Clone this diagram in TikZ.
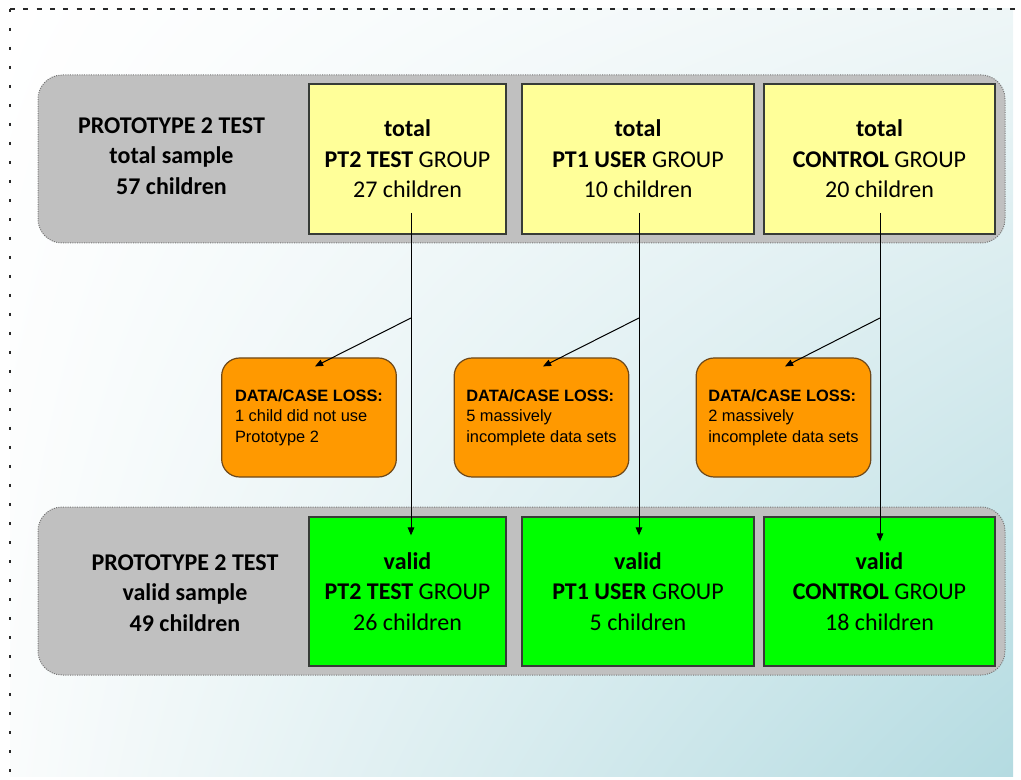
\documentclass[tikz,border=0pt]{standalone}
\usepackage{fontspec}
\setmainfont{Carlito}
\newfontfamily\lossfont{Liberation Sans}
\usetikzlibrary{arrows.meta,calc,shadings}

\definecolor{panelgray}{RGB}{192,192,192}
\definecolor{panelline}{RGB}{118,118,118}
\definecolor{yellowfill}{RGB}{255,255,153}
\definecolor{greenfill}{RGB}{0,255,0}
\definecolor{boxline}{RGB}{55,60,55}
\definecolor{lossfill}{RGB}{255,153,0}
\definecolor{lossline}{RGB}{110,72,25}
\definecolor{bgA}{RGB}{255,255,255}
\definecolor{bgB}{RGB}{238,246,247}
\definecolor{bgC}{RGB}{250,252,252}
\definecolor{bgD}{RGB}{180,219,225}
\definecolor{frameline}{RGB}{40,40,40}

\begin{document}
\begin{tikzpicture}[x=0.75pt,y=-0.75pt,
  panel/.style={draw=panelline, densely dotted, line width=0.75pt, fill=panelgray,
    rounded corners=18pt, inner sep=0pt, minimum width=725.25pt, minimum height=126pt},
  paneltext/.style={align=center, inner sep=0pt,
    font={\fontsize{18pt}{22.8pt}\selectfont\bfseries}},
  group/.style={draw=boxline, line width=1pt, inner sep=0pt, align=center,
    font={\fontsize{18pt}{22.8pt}\selectfont}},
  ybox/.style={group, fill=yellowfill, minimum height=112.5pt},
  gbox/.style={group, fill=greenfill, minimum height=111.75pt},
  loss/.style={draw=lossline, fill=lossfill, line width=0.9pt, rounded corners=13.5pt,
    align=left, inner sep=0pt, minimum width=131pt, minimum height=89.25pt,
    font={\lossfont\fontsize{12.3pt}{15.2pt}\selectfont}},
  link/.style={draw=black, line width=0.75pt, -{Triangle[length=6pt,width=5pt]}},
  frame/.style={draw=frameline, line width=1.4pt}
]
\useasboundingbox (0,0) rectangle (1021,780);

% soft background wash
\shade[upper left=bgA, upper right=bgB, lower left=bgC, lower right=bgD]
  (10,9) rectangle (1013,776);

% dashed page frame
\draw[frame, dash pattern=on 3.75pt off 6.25pt] (10,9) -- (1021,9);
\draw[frame, dash pattern=on 2.6pt off 11.65pt] (10,9) -- (10,780);

% sample panels
\node[panel] (toppanel) at (521.5,159) {};
\node[panel] (botpanel) at (521.5,591) {};

\node[paneltext] (toplabel) at (171.5,156) {PROTOTYPE 2 TEST\\total sample\\57 children};
\node[paneltext] (botlabel) at (185,593) {PROTOTYPE 2 TEST\\valid sample\\49 children};

% total groups
\node[ybox, minimum width=147.75pt] (y1) at (407.5,159)
  {\textbf{total}\\\textbf{PT2 TEST} GROUP\\27 children};
\node[ybox, minimum width=174pt] (y2) at (638,159)
  {\textbf{total}\\\textbf{PT1 USER} GROUP\\10 children};
\node[ybox, minimum width=173.25pt] (y3) at (879.5,159)
  {\textbf{total}\\\textbf{CONTROL} GROUP\\20 children};

% valid groups
\node[gbox, minimum width=147.75pt] (g1) at (407.5,591.5)
  {\textbf{valid}\\\textbf{PT2 TEST} GROUP\\26 children};
\node[gbox, minimum width=174pt] (g2) at (638,591.5)
  {\textbf{valid}\\\textbf{PT1 USER} GROUP\\5 children};
\node[gbox, minimum width=173.25pt] (g3) at (879.5,591.5)
  {\textbf{valid}\\\textbf{CONTROL} GROUP\\18 children};

% case losses
\node[loss] (o1) at (309,417.5)
  {\textbf{DATA/CASE LOSS:}\\1 child did not use\\Prototype 2};
\node[loss] (o2) at (541.5,417.5)
  {\textbf{DATA/CASE LOSS:}\\5 massively\\incomplete data sets};
\node[loss] (o3) at (783.5,417.5)
  {\textbf{DATA/CASE LOSS:}\\2 massively\\incomplete data sets};

% connector ends
\coordinate (s1) at (411,213);
\coordinate (m1) at (411,318);
\coordinate (e1) at ($(g1.north)+(3.5,19)$);
\coordinate (t1) at ($(o1.north)+(6,9)$);

\coordinate (s2) at (639,213);
\coordinate (m2) at (639,318);
\coordinate (e2) at ($(g2.north)+(1,19)$);
\coordinate (t2) at ($(o2.north)+(1.5,9)$);

\coordinate (s3) at (880,213);
\coordinate (m3) at (880,318);
\coordinate (e3) at ($(g3.north)+(0.5,25)$);
\coordinate (t3) at ($(o3.north)+(1.5,9)$);

% flows
\draw[link] (s1) -- (e1);
\draw[link] (m1) -- (t1);
\draw[link] (s2) -- (e2);
\draw[link] (m2) -- (t2);
\draw[link] (s3) -- (e3);
\draw[link] (m3) -- (t3);
\end{tikzpicture}
\end{document}
